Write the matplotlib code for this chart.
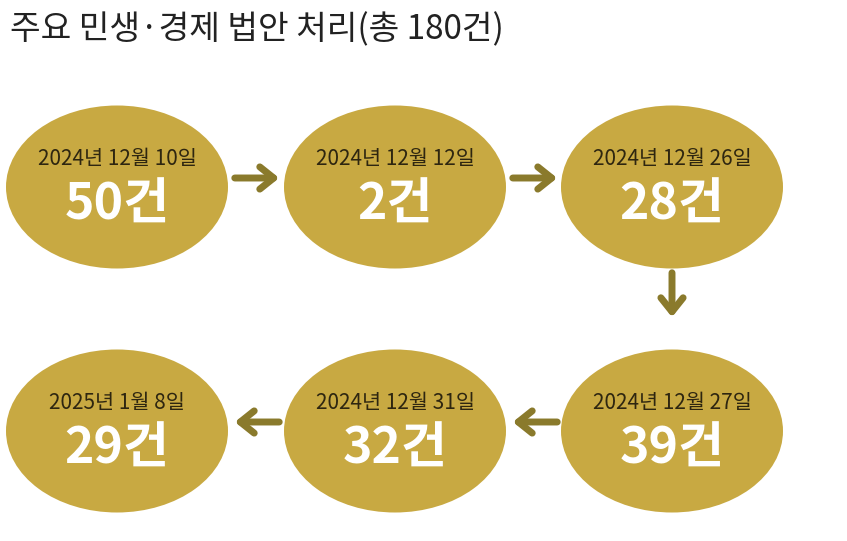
import matplotlib
matplotlib.use("Agg")
import matplotlib.pyplot as plt
from matplotlib.patches import Ellipse

plt.rcParams['font.family'] = ['Noto Sans CJK KR', 'DejaVu Sans']

title = "주요 민생·경제 법안 처리(총 180건)"
dates = ["2024년 12월 10일", "2024년 12월 12일", "2024년 12월 26일",
         "2024년 12월 27일", "2024년 12월 31일", "2025년 1월 8일"]
counts = [50, 2, 28, 39, 32, 29]

W, H = 847, 541
fig = plt.figure(figsize=(W/100, H/100), dpi=100)
ax = fig.add_axes([0, 0, 1, 1])
ax.set_xlim(0, W); ax.set_ylim(H, 0); ax.axis('off')

centers = [(117, 187), (395, 187), (672, 187), (672, 431), (395, 431), (117, 431)]
gold = '#C8A942'
arrowc = '#8A7A2C'
for (cx, cy), d, c in zip(centers, dates, counts):
    ax.add_patch(Ellipse((cx, cy), 222, 163, color=gold, lw=0))
    ax.text(cx, cy - 28, d, ha='center', va='center', fontsize=15, color='#2e2610')
    ax.text(cx, cy + 18, f"{c}건", ha='center', va='center', fontsize=36,
            fontweight='bold', color='white')

def arrow(x0, y0, x1, y1):
    ax.annotate('', xy=(x1, y1), xytext=(x0, y0),
                arrowprops=dict(arrowstyle='->,head_length=1.0,head_width=0.8',
                                color=arrowc, lw=5))

arrow(232, 178, 282, 178)
arrow(510, 178, 560, 178)
arrow(672, 270, 672, 320)
arrow(560, 422, 510, 422)
arrow(282, 422, 232, 422)

ax.text(10, 30, title, ha='left', va='center', fontsize=24, fontweight='medium', color='#222222')
fig.savefig('out.png', dpi=100)
